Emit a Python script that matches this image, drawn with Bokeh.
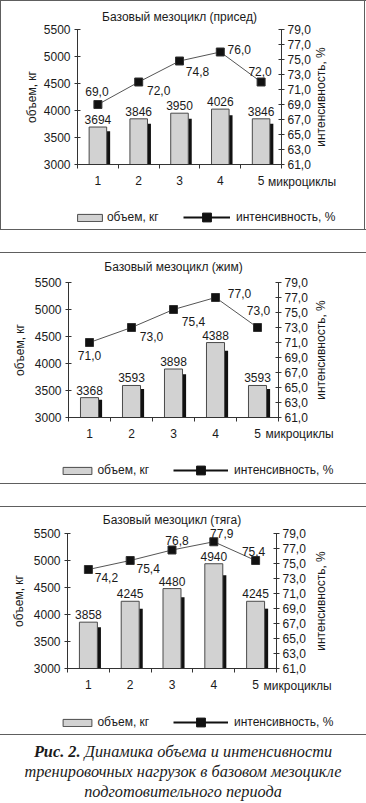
from bokeh.plotting import figure
from bokeh.models import (Range1d, LinearAxis, FixedTicker, Label, Legend,
                          LegendItem, ColumnDataSource, Div)
from bokeh.layouts import column, row
from bokeh.core.properties import value
from bokeh.transform import dodge
from bokeh.embed import file_html
from bokeh.resources import INLINE

# ---------------- data ----------------
microcycles = [1, 2, 3, 4, 5]
microcycle_labels = ["1", "2", "3", "4", "5"]
microcycle_word = "микроциклы"

chart_titles = ["Базовый мезоцикл (присед)",
                "Базовый мезоцикл (жим)",
                "Базовый мезоцикл (тяга)"]

volume_squat = [3694, 3846, 3950, 4026, 3846]
intensity_squat = [69.0, 72.0, 74.8, 76.0, 72.0]

volume_bench = [3368, 3593, 3898, 4388, 3593]
intensity_bench = [71.0, 73.0, 75.4, 77.0, 73.0]

volume_deadlift = [3858, 4245, 4480, 4940, 4245]
intensity_deadlift = [74.2, 75.4, 76.8, 77.9, 75.4]

volume_ticks = [3000, 3500, 4000, 4500, 5000, 5500]
intensity_ticks = [61, 63, 65, 67, 69, 71, 73, 75, 77, 79]

volume_axis_title = "объем, кг"
intensity_axis_title = "интенсивность, %"
legend_volume = "объем, кг"
legend_intensity = "интенсивность, %"

caption_bold = "Рис. 2."
caption_lines = ["Динамика объема и интенсивности",
                 "тренировочных нагрузок в базовом мезоцикле",
                 "подготовительного периода"]

# ---------------- styles / layout (pixels) ----------------
FONT = "Liberation Sans"
FS = "12px"
TXT = "#1a1a1a"
AX = "#333333"
AXIS_PX = 135
SHADE_RATIO = 0.89

layouts = [
    dict(W=363, H=228, ax_l=76, ax_r=280, ax_t=28, title_dy=13,
         right_px=39, word_px=7, tick_px=17, label_standoff=2,
         int_dx=[-1, 20, 18, 19, -1], int_dy=[-13, 8, 10, -3, -11],
         box_x=0, box_w=25, line_x=106, line_w=47, leg_dy=53),
    dict(W=366, H=230, ax_l=68, ax_r=278, ax_t=29, title_dy=16,
         right_px=42, word_px=8, tick_px=16, label_standoff=5,
         int_dx=[0, 20, 20, 24, 1], int_dy=[13, 9, 12, -4, -17],
         box_x=-5, box_w=29, line_x=105, line_w=55, leg_dy=53),
    dict(W=366, H=227, ax_l=67, ax_r=276, ax_t=26, title_dy=14,
         right_px=44, word_px=8, tick_px=17, label_standoff=5,
         int_dx=[18, 18, 5, 8, -2], int_dy=[8, 8, -10, -8, -9],
         box_x=-4, box_w=29, line_x=106, line_w=55, leg_dy=54),
]


def fmt_comma(v):
    return f"{v:.1f}".replace(".", ",")


def make_chart(idx, volumes, intensities):
    L = layouts[idx]
    W, H = L["W"], L["H"]
    ax_l, ax_r, ax_t = L["ax_l"], L["ax_r"], L["ax_t"]
    ax_b = ax_t + AXIS_PX
    vol_lo, vol_hi = volume_ticks[0], volume_ticks[-1]
    int_lo, int_hi = intensity_ticks[0], intensity_ticks[-1]
    vpp = (vol_hi - vol_lo) / AXIS_PX
    ipp = (int_hi - int_lo) / AXIS_PX
    upp = len(microcycles) / (ax_r - ax_l)
    cx0, cx1 = microcycles[0] - 0.5, microcycles[-1] + 0.5

    p = figure(width=W, height=H,
               x_range=Range1d(cx0 - ax_l * upp, cx1 + (W - ax_r) * upp),
               y_range=Range1d(vol_lo - (H - ax_b) * vpp, vol_hi + ax_t * vpp),
               output_backend="svg", toolbar_location=None,
               min_border_left=0, min_border_right=0,
               min_border_top=0, min_border_bottom=0)
    p.extra_y_ranges = {"int": Range1d(int_lo - (H - ax_b) * ipp,
                                       int_hi + ax_t * ipp)}
    p.outline_line_color = None
    p.xgrid.visible = False
    p.ygrid.visible = False
    p.background_fill_color = "white"
    p.border_fill_color = "white"

    src = ColumnDataSource(dict(
        x=microcycles,
        vol=volumes,
        shade=[vol_lo + SHADE_RATIO * (v - vol_lo) for v in volumes],
        vlabel=[str(v) for v in volumes],
        inten=intensities,
        ilabel=[fmt_comma(v) for v in intensities],
        dx=L["int_dx"], dy=L["int_dy"],
    ))

    face_w = 0.43
    shade_w = 0.085
    p.vbar(x=dodge("x", face_w / 2 + shade_w / 2), top="shade", bottom=vol_lo,
           width=shade_w, source=src, fill_color="#111111", line_color=None)
    face = p.vbar(x="x", top="vol", bottom=vol_lo, width=face_w, source=src,
                  fill_color="#d2d2d2", line_color="#4a4a4a", line_width=1)
    p.text(x="x", y="vol", text="vlabel", source=src, text_align="center",
           text_baseline="bottom", y_offset=-3, text_font=value(FONT),
           text_font_size=FS, text_color=TXT)

    p.line(x="x", y="inten", source=src, y_range_name="int",
           line_color="#555555", line_width=1)
    p.scatter(x="x", y="inten", source=src, y_range_name="int",
              marker="square", size=8, fill_color="#111111",
              line_color="#333333")
    p.text(x="x", y="inten", text="ilabel", source=src, y_range_name="int",
           x_offset="dx", y_offset="dy", text_align="center",
           text_baseline="middle", text_font=value(FONT),
           text_font_size=FS, text_color=TXT)

    # hidden sample renderers, used only to draw the legend entry (black, thicker)
    leg_line = p.line(x="x", y="inten", source=src, y_range_name="int",
                      line_color="#111111", line_width=2, visible=False)
    leg_mark = p.scatter(x="x", y="inten", source=src, y_range_name="int",
                         marker="square", fill_color="#111111",
                         line_color="#111111", visible=False)

    # left axis
    la = p.yaxis[0]
    la.fixed_location = cx0
    la.ticker = FixedTicker(ticks=volume_ticks)
    la.bounds = (vol_lo, vol_hi)
    la.axis_label = volume_axis_title
    la.axis_label_text_font = FONT
    la.axis_label_text_font_style = "normal"
    la.axis_label_text_font_size = FS
    la.axis_label_text_color = TXT
    la.axis_label_standoff = L["label_standoff"]
    la.major_label_text_font = FONT
    la.major_label_text_font_size = FS
    la.major_label_text_color = TXT
    la.major_label_standoff = 4
    la.major_tick_in = 3
    la.major_tick_out = 3
    la.minor_tick_line_color = None
    la.axis_line_color = AX
    la.major_tick_line_color = AX

    # right axis
    ra = LinearAxis(y_range_name="int", fixed_location=cx1,
                    ticker=FixedTicker(ticks=intensity_ticks),
                    bounds=(int_lo, int_hi),
                    major_label_overrides={t: fmt_comma(t) for t in intensity_ticks})
    ra.major_label_text_font = FONT
    ra.major_label_text_font_size = FS
    ra.major_label_text_color = TXT
    ra.major_label_standoff = 3
    ra.major_tick_in = 3
    ra.major_tick_out = 3
    ra.minor_tick_line_color = None
    ra.axis_line_color = AX
    ra.major_tick_line_color = AX
    p.add_layout(ra, "right")

    # bottom axis
    ba = p.xaxis[0]
    ba.fixed_location = vol_lo
    ba.bounds = (cx0, cx1)
    ba.ticker = FixedTicker(ticks=microcycles,
                            minor_ticks=[m - 0.5 for m in microcycles] + [cx1])
    ba.major_label_overrides = dict(zip(microcycles, microcycle_labels))
    ba.major_label_text_font = FONT
    ba.major_label_text_font_size = FS
    ba.major_label_text_color = TXT
    ba.major_label_standoff = 7
    ba.major_tick_in = 0
    ba.major_tick_out = 0
    ba.minor_tick_in = 0
    ba.minor_tick_out = 4
    ba.minor_tick_line_color = AX
    ba.axis_line_color = AX

    # texts placed around the axes
    p.add_layout(Label(x=sum(microcycles) / len(microcycles),
                       y=vol_hi + L["title_dy"] * vpp, text=chart_titles[idx],
                       text_align="center", text_baseline="middle",
                       text_font=FONT, text_font_size=FS, text_color=TXT))
    p.add_layout(Label(x=microcycles[-1] + L["word_px"] * upp,
                       y=vol_lo - L["tick_px"] * vpp, text=microcycle_word,
                       text_align="left", text_baseline="middle",
                       text_font=FONT, text_font_size=FS, text_color=TXT))
    p.add_layout(Label(x=cx1 + L["right_px"] * upp, y=(vol_lo + vol_hi) / 2,
                       text=intensity_axis_title, angle=90, angle_units="deg",
                       text_align="center", text_baseline="middle",
                       text_font=FONT, text_font_size=FS, text_color=TXT))

    gw1 = L["box_w"] / 0.8
    leg_center_from_bottom = H - (ax_b + L["leg_dy"])
    lg1 = Legend(items=[LegendItem(label=legend_volume, renderers=[face])],
                 location=(ax_l + L["box_x"] - 0.1 * gw1,
                           leg_center_from_bottom - 7),
                 orientation="horizontal", glyph_width=int(round(gw1)),
                 glyph_height=9, label_height=9, label_standoff=2,
                 padding=0, margin=0, spacing=0,
                 border_line_color=None, background_fill_alpha=0,
                 label_text_font=FONT, label_text_font_size=FS,
                 label_text_color=TXT)
    lg2 = Legend(items=[LegendItem(label=legend_intensity,
                                   renderers=[leg_line, leg_mark])],
                 location=(ax_l + L["line_x"], leg_center_from_bottom - 11),
                 orientation="horizontal", glyph_width=L["line_w"],
                 glyph_height=22, label_height=22, label_standoff=6,
                 padding=0, margin=0, spacing=0,
                 border_line_color=None, background_fill_alpha=0,
                 label_text_font=FONT, label_text_font_size=FS,
                 label_text_color=TXT)
    p.add_layout(lg1)
    p.add_layout(lg2)
    return p


p1 = make_chart(0, volume_squat, intensity_squat)
p2 = make_chart(1, volume_bench, intensity_bench)
p3 = make_chart(2, volume_deadlift, intensity_deadlift)

LINE = "#5e5e5e"
PAGE_W = 366


def hline():
    return Div(text="", width=PAGE_W, height=1, margin=0,
               styles={"background-color": LINE})


def vline(h):
    return Div(text="", width=1, height=h, margin=0,
               styles={"background-color": LINE})


def gap(h):
    return Div(text="", width=PAGE_W, height=h, margin=0)


caption_html = ("<b>" + caption_bold + "</b> " + caption_lines[0] + "<br>"
                + "<br>".join(caption_lines[1:]))
caption = Div(text=caption_html, width=PAGE_W, height=67, margin=0,
              styles={"font-family": "'Liberation Serif', serif",
                      "font-style": "italic", "font-size": "16.3px",
                      "line-height": "20px", "text-align": "center",
                      "color": "#1a1a1a", "padding-top": "7px",
                      "box-sizing": "border-box"})

layout = column(
    hline(),
    row(vline(228), p1, vline(228), spacing=0),
    hline(), gap(22), hline(),
    p2,
    hline(), gap(22), hline(),
    p3,
    hline(),
    caption,
    spacing=0,
)

open("out.html", "w").write(file_html(layout, INLINE))
